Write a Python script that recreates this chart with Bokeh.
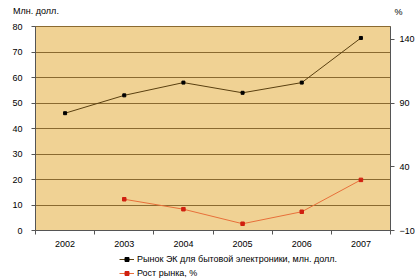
from bokeh.plotting import figure
from bokeh.layouts import column
from bokeh.models import (Range1d, LinearAxis, FixedTicker, Legend, LegendItem, Grid)
from bokeh.embed import file_html
from bokeh.resources import INLINE

years = ["2002", "2003", "2004", "2005", "2006", "2007"]
market = [46, 53, 58, 54, 58, 75.5]
growth_years = ["2003", "2004", "2005", "2006", "2007"]
growth = [14.5, 6.7, -4.7, 4.7, 29.7]

left_ticks = [0, 10, 20, 30, 40, 50, 60, 70, 80]
right_ticks = [-10, 40, 90, 140]

series_names = ["Рынок ЭК для бытовой электроники, млн. долл.", "Рост рынка, %"]
left_title = "Млн. долл."
right_title = "%"

FONT = "Liberation Sans"
W = 417
BL, BR = 35, 26
xpos = {y: i + 0.5 for i, y in enumerate(years)}
C1_LINE, C1_MARK = "#5a4010", "black"
C2_LINE, C2_MARK = "#E8703A", "#D02010"


def strip(h, bottom=0):
    # frame aligned with the main chart; x range in canvas pixels
    f = figure(width=W, height=h, output_backend="svg", toolbar_location=None,
               x_range=Range1d(BL, W - BR), y_range=Range1d(0, 12),
               min_border_left=BL, min_border_right=BR, min_border_top=0,
               min_border_bottom=bottom, x_axis_type=None, y_axis_type=None)
    f.outline_line_color = None
    f.grid.visible = False
    f.background_fill_color = "white"
    f.border_fill_color = "white"
    return f


def style_label_axis(ax):
    ax.major_label_text_font = FONT
    ax.major_label_text_font_size = "9px"
    ax.major_label_text_color = "black"
    ax.axis_line_color = None
    ax.major_tick_line_color = None
    ax.minor_tick_line_color = None
    ax.major_tick_in = 0
    ax.major_tick_out = 0


# top strip: axis titles as axis tick labels (side panels are not clipped)
top = strip(21, bottom=9)
ta = LinearAxis(ticker=FixedTicker(ticks=[BL + 0.5]))
ta.major_label_overrides = {BL + 0.5: left_title}
style_label_axis(ta)
ta.major_label_standoff = -7
top.add_layout(ta, "below")
tr = LinearAxis(ticker=FixedTicker(ticks=[0.2]))
tr.major_label_overrides = {0.2: right_title}
style_label_axis(tr)
tr.major_label_standoff = 4
top.add_layout(tr, "right")

# main chart
p = figure(width=W, height=232, output_backend="svg", toolbar_location=None,
           x_range=Range1d(0, len(years)), y_range=Range1d(0, 80),
           min_border_left=BL, min_border_right=BR, min_border_top=5, min_border_bottom=23,
           x_axis_type=None, y_axis_type=None)
p.outline_line_color = "#8a6a30"
p.background_fill_color = "#F0D294"
p.border_fill_color = "white"
p.extra_y_ranges = {"pct": Range1d(-10, 150)}

ly = LinearAxis(ticker=FixedTicker(ticks=left_ticks))
ry = LinearAxis(y_range_name="pct", ticker=FixedTicker(ticks=right_ticks))
for ax in (ly, ry):
    ax.major_label_text_font = FONT
    ax.major_label_text_font_size = "9px"
    ax.major_label_text_color = "black"
    ax.major_tick_in = 0
    ax.major_tick_out = 4
    ax.minor_tick_line_color = None
    ax.axis_line_color = "#555555"
    ax.major_tick_line_color = "#555555"
ly.major_label_standoff = 9
ry.major_label_standoff = 5
p.add_layout(ly, "left")
p.add_layout(ry, "right")

bx = LinearAxis(ticker=FixedTicker(ticks=[xpos[y] for y in years],
                                   minor_ticks=list(range(len(years) + 1))))
bx.major_label_overrides = {xpos[y]: y for y in years}
bx.major_label_text_font = FONT
bx.major_label_text_font_size = "9px"
bx.major_label_text_color = "black"
bx.major_tick_line_color = None
bx.major_tick_out = 4
bx.minor_tick_in = 0
bx.minor_tick_out = 4
bx.minor_tick_line_color = "#555555"
bx.axis_line_color = "#555555"
bx.major_label_standoff = 6
p.add_layout(bx, "below")

g = Grid(dimension=1, ticker=FixedTicker(ticks=left_ticks))
g.grid_line_color = "#8a6a30"
g.grid_line_width = 1
p.add_layout(g)

p.line([xpos[y] for y in years], market, line_color=C1_LINE, line_width=1)
p.scatter([xpos[y] for y in years], market, size=3, marker="square",
          fill_color=C1_MARK, line_color=C1_MARK)
p.line([xpos[y] for y in growth_years], growth, y_range_name="pct",
       line_color=C2_LINE, line_width=1)
p.scatter([xpos[y] for y in growth_years], growth, y_range_name="pct", size=3.5,
          marker="square", fill_color=C2_MARK, line_color=C2_MARK)

# legend strip (swatches only; off-canvas dummy renderers carry the styles)
leg = strip(26)
leg.y_range = Range1d(0, 26)
r1 = leg.line([-1000, -999], [-1000, -1000], line_color=C1_LINE, line_width=1)
s1 = leg.scatter([-1000], [-1000], size=3, marker="square", fill_color=C1_MARK, line_color=C1_MARK)
r2 = leg.line([-1000, -999], [-1000, -1000], line_color=C2_LINE, line_width=1)
s2 = leg.scatter([-1000], [-1000], size=3.5, marker="square", fill_color=C2_MARK, line_color=C2_MARK)
legend = Legend(items=[
    LegendItem(label=series_names[0], renderers=[r1, s1]),
    LegendItem(label=series_names[1], renderers=[r2, s2]),
])
legend.label_text_font = FONT
legend.label_text_font_size = "9px"
legend.label_text_color = "black"
legend.label_height = 10
legend.glyph_height = 10
legend.glyph_width = 15
legend.spacing = 4
legend.padding = 2
legend.margin = 0
legend.label_standoff = 3
legend.border_line_color = None
legend.background_fill_alpha = 0
legend.location = (119 - BL, 1)
leg.add_layout(legend)

layout = column(top, p, leg, spacing=0)
open("out.html", "w").write(file_html(layout, INLINE))
